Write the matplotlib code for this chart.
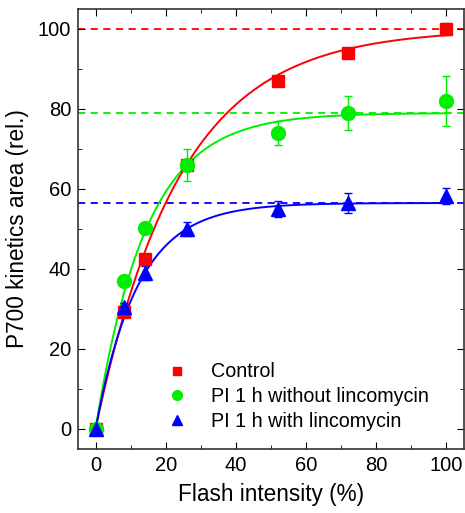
import numpy as np
import matplotlib
matplotlib.use("Agg")
import matplotlib.pyplot as plt
from matplotlib.ticker import MultipleLocator

plt.rcParams['font.family'] = ['Liberation Sans', 'DejaVu Sans']

# measured points
flash = [0, 8, 14, 26, 52, 72, 100]
control = [0, 29.3, 42.5, 66, 87, 94, 100]
control_err = [0.8, 1.0, 1.0, 1.2, 1.0, 1.2, 1.5]
pi_nolin = [0, 37, 50.3, 66, 74, 79, 82]
pi_nolin_err = [0.8, 1.0, 1.0, 4.0, 3.0, 4.3, 6.2]
pi_lin = [0, 30.5, 39, 50, 55, 56.5, 58.3]
pi_lin_err = [0.8, 1.0, 1.8, 1.8, 2.0, 2.4, 2.0]

labels = ["Control", "PI 1 h without lincomycin", "PI 1 h with lincomycin"]
colors = ["#ff0000", "#00ee00", "#0000ff"]
markers = ["s", "o", "^"]

# saturating exponential fits: A * (1 - exp(-x / tau))
fit_amp = [100, 79, 56.5]
fit_tau = [24, 14.4, 12]

series = [(control, control_err), (pi_nolin, pi_nolin_err), (pi_lin, pi_lin_err)]

fig = plt.figure(figsize=(4.65, 5.13), dpi=100)
ax = fig.add_axes([78 / 465, 1 - 449 / 513, (464 - 78) / 465, (449 - 9) / 513])

xx = np.linspace(0, 100, 300)
handles = []
for (y, err), amp, tau, c, m, lab in zip(series, fit_amp, fit_tau, colors, markers, labels):
    ax.axhline(amp, color=c, ls=(0, (4, 3)), lw=1.3, zorder=1)
    ax.plot(xx, amp * (1 - np.exp(-xx / tau)), color=c, lw=1.4, zorder=2)
    ms = 9 if m == "s" else 10
    ax.errorbar(flash, y, yerr=err, fmt='none', ecolor=c, elinewidth=1, capsize=3, zorder=3)
    h, = ax.plot(flash, y, ls='none', marker=m, color=c, ms=ms, mec=c, zorder=4, label=lab)
    handles.append(h)

ax.set_xlim(-5, 105)
ax.set_ylim(-5, 105)
ax.xaxis.set_major_locator(MultipleLocator(20))
ax.xaxis.set_minor_locator(MultipleLocator(10))
ax.yaxis.set_major_locator(MultipleLocator(20))
ax.yaxis.set_minor_locator(MultipleLocator(10))
ax.tick_params(which='both', direction='in', top=True, right=True, labelsize=14.5)
ax.tick_params(which='major', length=5, pad=5)
ax.tick_params(which='minor', length=3)
for s in ax.spines.values():
    s.set_linewidth(1.2)
    s.set_color('#333333')

ax.set_xlabel("Flash intensity (%)", fontsize=16.3, labelpad=6)
ax.set_ylabel("P700 kinetics area (rel.)", fontsize=16.3, labelpad=6)

ax.legend(handles=handles, loc='lower left', bbox_to_anchor=(0.17, 0.0), frameon=False,
          fontsize=14.2, markerscale=0.7, handletextpad=0.9, labelspacing=0.3,
          handlelength=1.6)

fig.savefig("out.png", dpi=100)
